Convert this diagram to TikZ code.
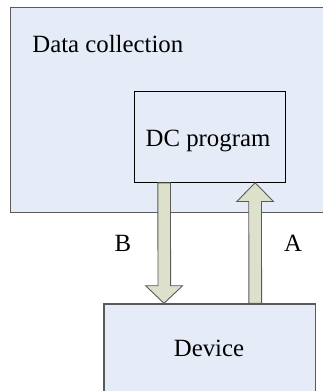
\documentclass[tikz,border=0pt]{standalone}
\usepackage{fontspec}
\setmainfont{Liberation Serif}
\usetikzlibrary{calc}

\definecolor{boxfill}{HTML}{E6ECF7}
\definecolor{arrowfill}{HTML}{DDE1CC}
\definecolor{edgegray}{HTML}{5A5A5A}

\tikzset{
  panel/.style={draw=edgegray, line width=1.2pt, fill=boxfill, anchor=north west, inner sep=0pt},
  inner/.style={draw=black, line width=0.8pt, fill=boxfill, anchor=north west, inner sep=0pt},
  lbl/.style={font=\fontsize{24.8}{30}\selectfont, inner sep=0pt, anchor=base},
  blockarrow/.style={draw=edgegray, line width=0.9pt, fill=arrowfill, line join=miter}
}

\begin{document}
\begin{tikzpicture}[x=1pt, y=-1pt]
	\clip (0,0) rectangle (323,391);
	\useasboundingbox (0,0) rectangle (323,391);
	% Draw the boxes
	\node[panel, minimum width=318pt, minimum height=205pt] (dcol) at (10,7) {};
	\node[inner, minimum width=151.3pt, minimum height=91pt] (dcp) at (133.7,91) {};
	\node[panel, minimum width=211.4pt, minimum height=100pt] (dev) at (103.3,303.3) {};
	% Labels
	\node[lbl, anchor=base west] (dcoltxt) at (32.2,52.5) {Data collection};
	\node[lbl] (dcptxt) at (208,146.7) {DC program};
	\node[lbl] (devtxt) at (209,356.7) {Device};
	\node[lbl, anchor=base west] (btxt) at (114.5,251) {B};
	\node[lbl, anchor=base west] (atxt) at (284,251) {A};
	% Connect the boxes with block arrows
	\draw[blockarrow]
		($(dcp.south)+(-51.9,0)$) -- ($(dcp.south)+(-39.3,0)$)
		-- ($(dev.north)+(-39,-17.6)$) -- ($(dev.north)+(-27,-17.6)$)
		-- ($(dev.north)+(-45.6,0)$)
		-- ($(dev.north)+(-64,-17.6)$) -- ($(dev.north)+(-51.6,-17.6)$) -- cycle;
	\draw[blockarrow]
		($(dev.north)+(39.3,0)$) -- ($(dev.north)+(52,0)$)
		-- ($(dcp.south)+(51.7,18.7)$) -- ($(dcp.south)+(63.7,18.7)$)
		-- ($(dcp.south)+(45.4,0)$)
		-- ($(dcp.south)+(27,18.7)$) -- ($(dcp.south)+(39,18.7)$) -- cycle;
\end{tikzpicture}
\end{document}
